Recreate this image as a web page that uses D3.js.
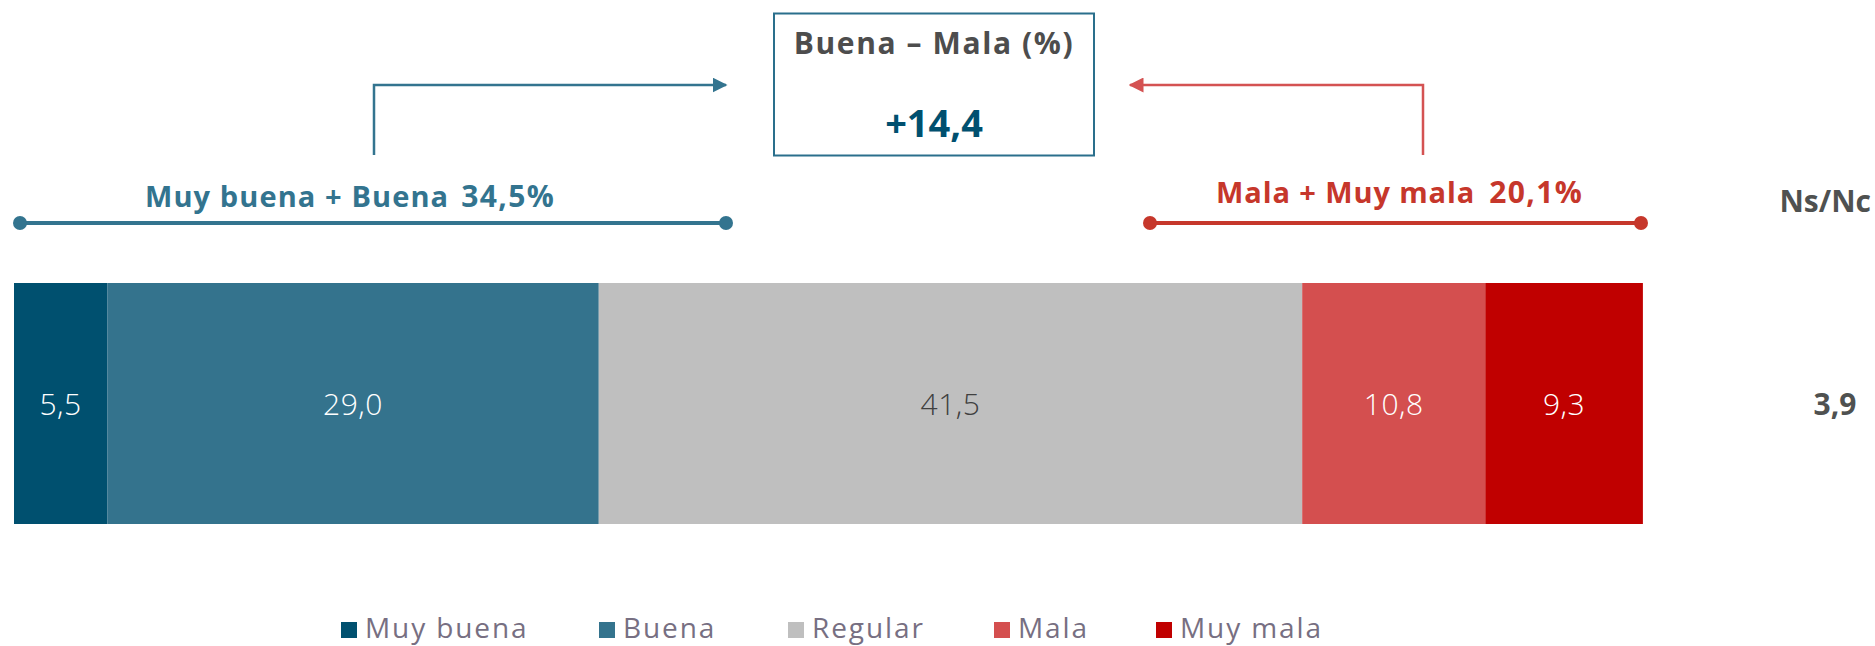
<!DOCTYPE html>
<meta charset="utf-8">
<style>
body{ margin:0; background:#fff; }
text{ font-family: "Open Sans", sans-serif; }
</style>
<body>
<div id="chart"></div>
<script src="https://cdn.jsdelivr.net/npm/d3@7"></script>
<script>
// valoracion: barra apilada 100% con anotaciones de saldo

var categories = ["Muy buena", "Buena", "Regular", "Mala", "Muy mala"];
var values = [5.5, 29.0, 41.5, 10.8, 9.3];
var colors = ["#00506f", "#34738d", "#bfbfbf", "#d44f4f", "#c00000"];
var labelColors = ["#ffffff", "#ffffff", "#404040", "#ffffff", "#ffffff"];
var nsnc = 3.9;
var positive = 34.5;   // Muy buena + Buena
var negative = 20.1;   // Mala + Muy mala
var saldo = 14.4;

var width = 1875, height = 646;
var barTop = 283, barH = 241;

var fmt = function(v){ return v.toFixed(1).replace('.', ','); };

var svg = d3.select("#chart").append("svg")
	.attr("width", width).attr("height", height);

var x = d3.scaleLinear().domain([0, 100]).range([14, 1709]);

var stack = [];
var acc = 0;
values.forEach(function(v, i){
	stack.push({cat: categories[i], v: v, x0: acc, x1: acc + v, i: i});
	acc += v;
});

var bars = svg.append("g").attr("class", "bars");
bars.selectAll("rect").data(stack).enter().append("rect")
	.attr("x", function(d){ return x(d.x0); })
	.attr("y", barTop)
	.attr("width", function(d){ return x(d.x1) - x(d.x0); })
	.attr("height", barH)
	.attr("fill", function(d){ return colors[d.i]; });

bars.selectAll("text").data(stack).enter().append("text")
	.attr("x", function(d){ return (x(d.x0) + x(d.x1)) / 2; })
	.attr("y", 415)
	.attr("text-anchor", "middle")
	.style("font-size", "30px")
	.style("font-weight", 300)
	.style("letter-spacing", "0.5px")
	.attr("fill", function(d){ return labelColors[d.i]; })
	.text(function(d){ return fmt(d.v); });

// Ns/Nc
svg.append("text").attr("x", 1871).attr("y", 212).attr("text-anchor", "end")
	.style("font-size", "30px").style("font-weight", 700).attr("fill", "#4f5150")
	.text("Ns/Nc");
svg.append("text").attr("x", 1835).attr("y", 415).attr("text-anchor", "middle")
	.style("font-size", "30px").style("font-weight", 700).attr("fill", "#4f5150")
	.text(fmt(nsnc));

// brackets
var blue = "#33748f", red = "#c6372b", redArrow = "#d45252";
function bracket(x1, x2, y, col){
	svg.append("line").attr("x1", x1).attr("x2", x2).attr("y1", y).attr("y2", y)
		.attr("stroke", col).attr("stroke-width", 4);
	svg.selectAll(null).data([x1, x2]).enter().append("circle")
		.attr("cx", function(d){ return d; }).attr("cy", y).attr("r", 7)
		.attr("fill", col);
}
bracket(20, 726, 223, blue);
bracket(1150, 1641, 223, red);

var lt = svg.append("text").attr("x", 145).attr("y", 207)
	.style("font-weight", 700).attr("fill", blue);
lt.append("tspan").style("font-size", "29px").style("letter-spacing", "1.1px").text("Muy buena + Buena");
lt.append("tspan").attr("dx", 12).style("font-size", "30px").style("letter-spacing", "1.4px").text(fmt(positive) + "%");

var rt = svg.append("text").attr("x", 1216).attr("y", 203)
	.style("font-weight", 700).attr("fill", red);
rt.append("tspan").style("font-size", "29px").style("letter-spacing", "0.9px").text("Mala + Muy mala");
rt.append("tspan").attr("dx", 14).style("font-size", "30px").style("letter-spacing", "1.4px").text(fmt(negative) + "%");

// arrows
var defs = svg.append("defs");
[["arrB", blue], ["arrR", redArrow]].forEach(function(m){
	defs.append("marker").attr("id", m[0]).attr("viewBox", "0 0 10 10")
		.attr("refX", 9).attr("refY", 5).attr("markerWidth", 6).attr("markerHeight", 6)
		.attr("markerUnits", "strokeWidth").attr("orient", "auto")
		.append("path").attr("d", "M0,0L10,5L0,10z").attr("fill", m[1]);
});
svg.append("path").attr("d", "M374,155V85H726").attr("fill", "none")
	.attr("stroke", blue).attr("stroke-width", 2.5).attr("marker-end", "url(#arrB)");
svg.append("path").attr("d", "M1423,155V85H1130").attr("fill", "none")
	.attr("stroke", redArrow).attr("stroke-width", 2.5).attr("marker-end", "url(#arrR)");

// box
svg.append("rect").attr("x", 774).attr("y", 13.5).attr("width", 320).attr("height", 142)
	.attr("fill", "none").attr("stroke", "#2a6f8c").attr("stroke-width", 2);
svg.append("text").attr("x", 934).attr("y", 54).attr("text-anchor", "middle")
	.style("font-size", "30px").style("font-weight", 700).style("letter-spacing", "1.6px")
	.attr("fill", "#4d4d4d")
	.text("Buena \u2013 Mala (%)");
svg.append("text").attr("x", 934).attr("y", 137).attr("text-anchor", "middle")
	.style("font-size", "38px").style("font-weight", 700).attr("fill", "#00506f")
	.text("+" + fmt(saldo));

// legend
var legX = [341, 599, 788, 994, 1156];
var leg = svg.append("g").selectAll("g").data(categories).enter().append("g")
	.attr("transform", function(d, i){ return "translate(" + legX[i] + ",638)"; });
leg.append("rect").attr("y", -16).attr("width", 16).attr("height", 16)
	.attr("fill", function(d, i){ return colors[i]; });
leg.append("text").attr("x", 24).attr("y", 0)
	.style("font-size", "28px").style("letter-spacing", "1.9px").attr("fill", "#776f82")
	.text(function(d){ return d; });
</script>
</body>
